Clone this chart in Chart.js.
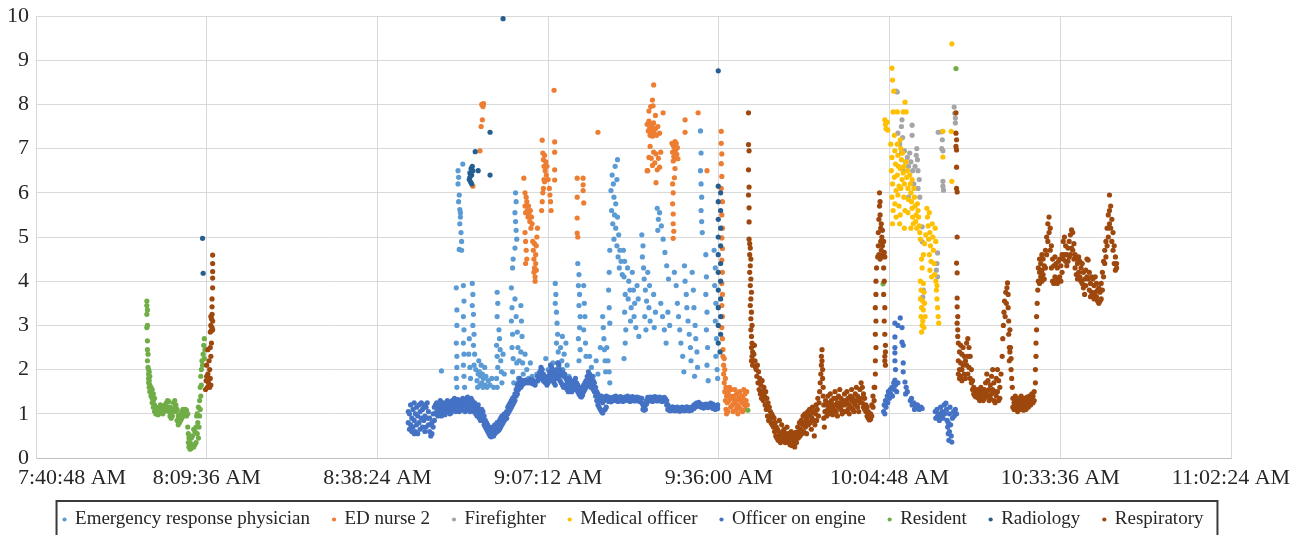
<!DOCTYPE html>
<html>
<head>
<meta charset="utf-8">
<script src="https://cdn.jsdelivr.net/npm/chart.js@4.4.1/dist/chart.umd.min.js"></script>
<style>
  html, body { margin: 0; padding: 0; background: #fff; }
</style>
</head>
<body>
<canvas id="chart" width="1305" height="535"></canvas>
<script>
'use strict';

// time axis: minutes after midnight
const xTicks = [460.8, 489.6, 518.4, 547.2, 576.0, 604.8, 633.6, 662.4];
const xTickLabels = ['7:40:48 AM', '8:09:36 AM', '8:38:24 AM', '9:07:12 AM', '9:36:00 AM', '10:04:48 AM', '10:33:36 AM', '11:02:24 AM'];

const seriesNames = ['Emergency response physician', 'ED nurse 2', 'Firefighter', 'Medical officer',
  'Officer on engine', 'Resident', 'Radiology', 'Respiratory'];
const seriesColors = ['#5B9BD5', '#ED7D31', '#A5A5A5', '#FFC000', '#4472C4', '#70AD47', '#255E91', '#9E480E'];

// [minute, value]
const emergencyPhysician = [
  [529.2,1.97],
  [532.8,6.65],[532.0,6.5],[532.1,6.35],[532.0,6.2],[532.2,5.95],[532.1,5.8],[532.3,5.62],[532.4,5.45],[532.3,5.3],[532.5,5.1],[532.6,4.9],[532.2,4.72],[532.6,4.7],[532.4,5.55],
  [531.7,3.85],[531.8,3.35],[531.8,3.0],[531.7,2.6],[531.8,2.3],[531.8,2.05],[531.7,1.8],[531.8,1.6],[532.9,3.9],[533.0,3.55],[532.9,3.2],[533.0,2.9],[532.9,2.6],[533.0,2.35],[532.9,2.1],[533.0,1.85],[533.1,1.6],
  [534.4,3.95],[534.5,3.7],[534.4,3.45],[534.6,3.25],[534.5,3.0],[534.7,2.8],[534.6,2.55],[534.8,2.35],[534.7,2.1],[533.9,2.7],[533.8,2.35],[534.0,2.05],[534.1,1.8],
  [535.0,2.0],[535.2,1.75],[535.3,1.6],[535.4,1.9],[535.5,2.2],[535.6,1.95],[535.7,1.65],[535.8,1.85],[535.9,2.1],[536.0,1.7],[536.1,1.9],[536.2,1.6],[536.3,1.8],[536.5,2.05],[536.6,1.65],[536.7,1.85],[536.9,1.6],[537.1,1.75],[537.4,1.65],[537.7,1.8],[538.0,1.6],
  [538.6,3.75],[538.7,3.5],[538.6,3.2],[538.5,2.55],[538.6,2.3],[538.7,2.05],[538.5,1.8],[538.6,1.6],[538.9,2.9],[539.0,2.7],[539.1,2.45],[539.2,2.2],[539.3,1.95],[539.4,1.7],[539.6,2.35],[539.8,1.9],
  [541.7,6.0],[541.8,5.8],[541.6,5.55],[541.7,5.35],[541.8,5.15],[541.9,4.95],[541.6,4.75],[541.3,4.5],[541.2,4.3],[541.0,3.85],[541.1,3.4],[541.0,3.1],[541.2,2.8],[541.1,2.5],[541.3,2.25],[541.2,1.95],[541.4,1.7],[541.6,3.6],[541.8,3.2],[542.0,2.85],[542.1,2.5],[541.9,2.15],[542.2,1.8],[542.3,2.2],[542.0,1.6],
  [542.6,3.45],[542.7,3.1],[542.8,2.75],[542.6,2.4],[542.9,2.15],[543.0,1.9],[543.3,2.35],[543.6,2.0],[543.9,1.8],[544.2,2.15],[544.5,1.85],
  [545.3,1.9],[545.5,1.75],[546.0,2.0],[546.5,1.8],[546.8,2.25],[547.2,2.0],[547.6,1.75],[548.0,2.15],[548.4,3.95],[548.5,3.7],[548.4,3.5],[548.6,3.3],[548.7,3.05],[548.8,2.8],[548.6,2.6],[548.9,2.4],[549.0,2.15],[549.2,1.9],[549.3,2.5],[549.5,2.2],[549.6,2.75],[549.7,2.0],[549.9,2.35],[550.2,2.6],[550.4,2.1],[550.7,1.85],
  [552.2,4.4],[552.4,4.15],[552.3,3.9],[552.5,3.7],[552.4,3.45],[552.6,3.2],[552.5,2.95],[552.3,2.7],[552.6,2.45],[552.4,2.2],[553.2,3.9],[553.3,3.5],[553.4,3.2],[553.2,2.9],[553.5,2.6],[553.6,2.3],
  [554.2,2.3],[554.5,2.05],[554.8,1.85],[555.3,2.2],[555.6,1.9],[556.0,2.5],[556.4,3.2],[556.5,2.95],[556.6,2.7],[556.7,2.45],[556.8,2.2],[556.9,1.95],[557.1,2.5],[557.3,2.2],[557.5,1.95],[557.6,1.7],
  [558.9,6.75],[558.5,6.6],[558.0,6.4],[558.2,6.2],[558.8,6.3],[557.8,6.05],[558.3,5.9],[558.6,5.75],[557.9,5.6],[558.4,5.5],[558.9,5.45],[558.1,5.3],[558.6,5.2],[559.1,5.05],[558.3,4.95],[558.8,4.8],[559.3,4.7],[559.0,4.55],[559.5,4.45],[559.2,4.3],[559.7,4.15],[557.6,4.7],[557.5,4.2],[557.4,3.8],[557.5,3.4],[557.6,3.05],
  [559.9,4.7],[560.1,4.45],[560.0,4.1],[560.2,3.7],[560.1,3.3],[560.3,2.9],[560.2,2.6],[560.0,2.25],[560.6,4.3],[560.8,4.0],[560.7,3.6],[561.0,3.8],[561.2,3.4],[561.1,3.1],[561.4,4.2],[561.6,3.8],[561.8,3.5],[561.7,3.2],[562.0,2.95],[562.2,3.9],[562.4,3.6],[562.5,2.75],
  [563.0,5.05],[563.2,4.8],[563.1,4.55],[563.3,4.3],[563.4,4.05],[563.6,3.8],[563.8,3.55],[563.5,3.2],[563.7,2.9],[564.0,4.2],[564.3,3.9],[564.2,3.4],[564.4,3.1],[565.6,5.65],[565.8,5.4],[565.7,5.15],[566.0,5.55],[566.3,5.25],[566.6,4.95],[566.9,4.65],[567.2,4.35],[567.5,4.05],[566.2,3.5],[566.5,3.2],[566.8,2.9],[567.1,2.6],[567.4,3.3],[567.7,3.0],[565.0,3.7],[565.3,3.3],[565.1,2.95],
  [568.5,4.2],[568.8,3.9],[569.0,3.5],[569.2,3.2],[569.4,2.9],[569.6,2.6],[569.9,2.3],[570.2,4.35],[570.3,4.0],[570.5,3.7],[570.6,3.4],[570.8,3.1],[571.0,2.8],[571.2,2.5],[571.3,2.2],[571.5,4.2],[571.7,3.8],[571.8,3.4],[572.0,3.0],[572.1,2.7],[572.3,2.4],[572.4,2.05],[570.1,1.95],[571.9,1.85],
  [572.9,7.4],[573.0,6.9],[572.9,6.5],[573.0,6.2],[573.1,5.9],[573.0,5.6],[573.1,5.35],[573.2,5.1],
  [573.8,4.6],[573.9,4.1],[573.8,3.7],[574.0,3.3],[573.9,2.9],[574.1,2.5],[574.0,2.1],[574.2,1.75],[575.2,4.7],[575.4,4.3],[575.3,3.9],[575.5,3.5],[575.4,3.1],[575.6,2.7],[575.5,2.3],[575.7,2.0],[575.8,1.8]
];

const edNurse2 = [
  [534.5,6.15],[535.7,6.95],[535.9,7.5],[536.1,7.65],[536.2,7.95],[536.3,8.02],[536.2,7.98],[536.0,8.0],
  [543.1,6.33],[543.3,6.0],[543.3,5.7],[543.4,5.55],[543.5,5.9],[543.6,5.8],[543.7,5.6],[543.8,5.45],[543.9,5.7],[544.0,5.5],[544.1,5.35],[544.2,5.6],[544.3,5.2],[544.4,5.45],[544.5,5.3],
  [543.3,5.1],[543.4,4.9],[543.5,4.7],[543.6,4.5],[543.4,4.4],[544.6,4.9],[544.7,4.7],[544.8,4.5],[544.9,4.3],[545.0,4.1],[545.0,4.0],[544.8,4.2],[545.1,4.4],[545.2,4.8],[545.3,5.0],[545.4,5.2],[545.1,4.6],[544.9,4.85],[545.2,4.25],
  [546.2,7.19],[546.3,6.9],[546.4,6.75],[546.5,6.6],[546.6,6.85],[546.7,6.5],[546.8,6.7],[546.9,6.4],[547.0,6.6],[546.5,6.3],[546.4,6.1],[546.6,6.25],[546.3,6.0],[546.2,5.8],[546.1,5.6],[547.2,6.3],[547.4,6.1],[547.5,5.95],[547.6,5.8],[547.7,5.6],
  [548.2,8.32],[548.3,7.15],[548.3,6.92],[548.3,6.52],[548.3,6.29],[555.6,7.37],
  [552.1,6.33],[552.1,5.9],[552.1,5.43],[552.1,5.09],[552.2,5.0],[553.1,6.33],[553.1,6.18],[553.2,5.77],[553.1,6.05],
  [565.0,8.44],[564.8,8.1],[564.9,7.97],[564.2,7.85],[564.5,7.95],[565.3,7.75],
  [563.9,7.55],[564.1,7.4],[564.2,7.62],[564.3,7.45],[564.4,7.3],[564.5,7.55],[564.6,7.35],[564.7,7.5],[564.8,7.28],[564.9,7.4],[565.0,7.58],[565.1,7.35],[565.3,7.45],[565.5,7.3],[565.7,7.5],[566.0,7.35],
  [564.0,6.5],[564.2,6.8],[564.4,7.05],[564.6,6.78],[564.8,6.62],[565.0,6.92],[565.2,6.68],[565.4,6.88],[565.6,6.52],[565.8,6.78],[566.0,6.58],[566.2,6.92],[563.9,6.5],[565.4,6.23],
  [566.6,7.81],[570.3,7.65],[570.3,7.37],[572.5,7.81],[574.0,6.5],
  [568.1,7.12],[568.2,6.92],[568.3,7.07],[568.4,6.82],[568.5,7.02],[568.6,6.77],[568.7,6.97],[568.8,7.12],[568.9,6.87],[569.0,7.02],[569.1,6.77],[568.3,6.72],[568.6,7.16],
  [568.5,6.34],[568.3,6.0],[568.2,5.75],[568.3,5.52],[568.3,5.3],[568.4,5.13],[568.3,4.97],[568.6,6.55],[568.2,6.2],
  [576.4,7.39],[576.4,7.12],[576.5,6.88],[576.4,6.66],[576.5,6.37],[576.4,6.1],[576.6,5.8],[576.5,5.5],[576.6,5.2],[576.5,4.98],[576.6,4.74],[576.5,4.48],[576.6,4.2],[576.5,3.95],[576.6,3.7],[576.5,3.45],[576.6,3.2],[576.5,2.95],[576.6,2.7],[576.7,2.45],
  [576.7,2.3],[576.8,2.1],[576.9,2.25],[576.8,1.9],[576.9,1.7],[577.0,2.0],[577.0,1.5],[577.1,1.8],[577.1,1.3],[577.2,1.6],[577.2,1.1],[577.3,1.4],[577.3,1.0],[577.4,1.25],[577.5,1.05],[577.6,1.5],[577.7,1.3],[577.8,1.6],[577.9,1.4],[578.0,1.15],
  [578.1,1.55],[578.2,1.35],[578.3,1.2],[578.4,1.05],[578.5,1.4],[578.6,1.25],[578.7,1.55],[578.8,1.3],[578.9,1.1],[579.0,1.45],[579.1,1.2],[579.2,1.0],[579.3,1.35],[579.4,1.15],[579.5,1.5],[579.6,1.3],[579.7,1.1],[579.8,1.4],[579.9,1.25],[580.0,1.05],
  [580.1,1.35],[580.2,1.55],[580.3,1.2],[580.4,1.45],[580.5,1.1],[580.6,1.3],[580.7,1.5],[580.8,1.2]
];

const firefighter = [
  [605.9,8.3],[606.1,8.28],[606.9,7.65],[606.8,7.5],[608.6,7.53],[608.6,7.3],
  [606.2,7.35],[606.5,7.1],[606.8,6.9],[607.0,7.25],[607.3,6.95],[607.5,6.7],[607.1,6.5],[607.8,6.8],[608.0,6.6],[608.2,6.9],[608.4,6.7],[608.7,6.5],[608.9,6.2],[609.1,6.6],[609.3,6.85],[609.4,7.0],[609.5,6.75],[609.6,6.5],[609.8,6.3],[609.6,6.1],[609.9,5.9],[608.0,5.9],
  [610.3,5.23],[610.3,4.89],[610.4,3.64],[610.5,3.8],
  [612.9,4.64],[612.8,4.4],[612.9,4.1],[612.7,4.25],
  [613.0,7.37],[613.6,7.38],[613.7,7.2],[613.6,7.0],[613.8,6.95],[613.8,6.26],[613.8,6.15],[613.9,6.06],
  [615.7,7.94],[615.8,7.8],[615.9,7.69],[615.9,7.58]
];

const medicalOfficer = [
  [604.0,7.65],[604.1,7.55],[604.2,7.45],[604.4,7.6],[604.5,7.42],
  [605.2,8.82],[605.3,8.55],[605.5,8.3],
  [605.4,7.83],[606.1,7.83],[607.1,7.83],[607.6,7.83],[607.4,8.05],
  [605.0,7.1],[605.2,6.8],[605.1,6.5],[605.3,6.2],[605.2,5.9],[605.4,5.6],[605.3,5.3],
  [605.6,7.3],[605.7,6.95],[605.8,6.65],[605.6,6.35],[605.9,6.05],[605.7,5.75],[605.9,5.45],
  [606.1,7.1],[606.2,6.85],[606.3,6.6],[606.1,6.4],[606.4,6.15],[606.2,5.95],[606.4,5.7],
  [606.6,7.2],[606.7,7.0],[606.8,6.75],[606.6,6.55],[606.9,6.3],[606.7,6.1],[606.5,5.3],[606.6,5.5],
  [607.0,6.9],[607.2,6.6],[607.1,6.45],[607.3,6.2],[607.2,5.9],[607.4,5.6],[607.3,5.2],
  [607.6,6.7],[607.8,6.5],[607.7,6.35],[607.9,6.1],[608.0,5.85],[607.9,5.55],
  [608.2,6.4],[608.3,6.2],[608.4,6.0],[608.5,5.8],[608.6,5.65],[608.7,5.45],[608.8,5.3],[608.4,5.2],
  [608.6,6.3],[608.9,6.1],[609.0,5.9],[609.1,5.7],[609.3,5.5],[609.2,5.35],[609.4,5.2],
  [609.5,5.75],[609.6,5.6],[609.7,5.45],[609.8,5.25],[609.9,5.1],[610.0,4.95],
  [610.0,4.0],[610.1,3.8],[610.0,3.6],[610.2,3.4],[610.1,3.2],[610.3,3.0],[610.2,2.85],[610.4,3.1],[610.5,3.35],[610.4,3.55],[610.6,3.75],[610.5,3.95],[610.7,3.5],[610.8,3.2],[610.6,2.95],
  [610.3,4.3],[610.5,4.6],[610.7,4.85],[610.9,5.05],[610.2,4.5],
  [611.1,5.65],[611.2,5.45],[611.3,5.25],[611.5,5.55],[611.6,5.1],[611.4,4.95],[611.7,4.8],[611.5,4.6],[611.8,4.45],[611.6,4.25],[611.9,4.1],[612.0,5.3],[612.1,5.0],[612.2,4.7],[612.3,4.4],[612.4,4.15],[612.5,5.2],[612.6,4.9],
  [612.6,4.0],[612.7,3.8],[612.8,3.6],[612.9,3.4],[613.0,3.2],[613.1,3.05],[612.8,3.9],
  [613.8,7.39],[613.8,6.81],[615.2,7.39],[615.3,9.37],[615.3,6.26]
];

const officerOnEngine = [
  [523.6,1.05],[523.6,0.8],[523.8,1.0],[523.8,0.65],[524.0,1.2],[524.0,0.75],[524.2,0.9],[524.2,0.6],[524.4,1.1],[524.4,0.7],[524.6,1.25],[524.6,0.85],[524.6,0.55],[524.8,1.0],[524.8,0.6],
  [525.0,1.15],[525.0,0.75],[525.2,0.95],[525.2,0.55],[525.4,1.2],[525.4,0.8],[525.6,1.05],[525.6,0.65],[525.8,1.25],[525.8,0.9],[526.0,1.1],[526.0,0.7],[526.2,1.2],[526.2,0.85],[526.4,0.95],[526.4,0.6],
  [526.6,1.15],[526.6,0.7],[526.8,1.25],[526.8,0.9],[527.0,1.05],[527.0,0.75],[527.2,0.9],[527.2,0.6],[527.4,0.75],[527.4,0.5],[527.6,0.8],[527.6,0.55],[527.8,1.0],[527.8,0.7],[528.0,1.15],[528.0,0.85],
  [528.2,1.2],[528.2,1.0],[528.4,1.25],[528.4,1.05],[528.6,1.15],[528.6,0.95],[528.8,1.2],[528.8,1.0],[529.0,1.3],[529.0,1.1],[529.2,1.1],[529.2,0.95],[529.4,1.2],[529.4,1.0],[529.6,1.25],[529.6,1.05],
  [529.8,1.15],[529.8,0.98],[530.0,1.2],[530.0,1.05],[530.2,1.3],[530.2,1.1],[530.4,1.25],[530.4,1.05],[530.6,1.15],[530.6,1.0],[530.8,1.2],[530.8,1.02],[531.0,1.3],[531.0,1.1],[531.2,1.25],[531.2,1.08],
  [531.4,1.35],[531.4,1.15],[531.6,1.2],[531.6,1.05],[531.8,1.28],[531.8,1.1],[532.0,1.32],[532.0,1.12],[532.2,1.2],[532.2,1.05],[532.4,1.3],[532.4,1.1],[532.6,1.25],[532.6,1.08],[532.8,1.35],[532.8,1.15],
  [533.0,1.3],[533.0,1.1],[533.2,1.22],[533.2,1.05],[533.4,1.3],[533.4,1.1],[533.6,1.38],[533.6,1.18],[533.8,1.3],[533.8,1.12],[534.0,1.25],[534.0,1.05],[534.2,1.35],[534.2,1.15],[534.4,1.3],[534.4,1.1],
  [534.6,1.2],[534.6,1.05],[534.8,1.25],[534.8,1.08],[535.0,1.15],[535.0,1.0],[535.2,1.1],[535.2,0.95],[535.4,1.2],[535.4,1.0],[535.6,1.1],[535.6,0.9],[535.8,1.0],[535.8,0.85],[536.0,1.1],[536.0,0.9],
  [536.2,1.05],[536.2,0.85],[536.4,0.95],[536.4,0.75],[536.6,0.85],[536.6,0.7],[536.8,0.8],[536.8,0.65],[537.0,0.75],[537.0,0.6],[537.2,0.7],[537.2,0.55],[537.4,0.65],[537.4,0.5],[537.6,0.6],[537.6,0.48],
  [537.8,0.7],[537.8,0.52],[538.0,0.65],[538.0,0.5],[538.2,0.75],[538.2,0.55],[538.4,0.7],[538.4,0.58],[538.6,0.8],[538.6,0.6],[538.8,0.75],[538.8,0.62],[539.0,0.85],[539.0,0.65],[539.2,0.9],[539.2,0.7],
  [539.4,0.95],[539.4,0.75],[539.6,0.9],[539.6,0.8],[539.8,1.0],[539.8,0.85],[540.0,0.95],[540.0,0.88],[540.2,1.05],[540.2,0.9],[540.4,1.15],[540.4,1.0],[540.6,1.2],[540.6,1.05],[540.8,1.25],[540.8,1.1],
  [541.0,1.3],[541.0,1.15],[541.2,1.35],[541.2,1.2],[541.4,1.38],[541.4,1.25],[541.6,1.45],[541.6,1.3],[541.8,1.55],[541.8,1.4],[542.0,1.65],[542.0,1.45],[542.2,1.7],[542.2,1.55],[542.4,1.8],[542.4,1.6],
  [542.6,1.75],[542.6,1.6],[542.8,1.72],[542.8,1.65],[543.0,1.75],[543.0,1.68],[543.2,1.74],[543.4,1.76],[543.4,1.7],[543.6,1.73],[543.8,1.74],[543.8,1.7],[544.0,1.76],[544.2,1.78],[544.2,1.7],[544.4,1.74],[544.6,1.76],[544.6,1.68],[544.8,1.72],[545.0,1.7],[545.0,1.65],
  [545.4,1.85],[545.4,1.75],[545.8,1.95],[545.8,1.8],[546.0,2.05],[546.0,1.85],[546.2,2.0],[546.2,1.8],[546.4,1.9],[546.4,1.75],[546.6,1.85],[546.6,1.72],[546.8,1.8],[546.8,1.7],[547.0,1.75],[547.0,1.65],
  [547.2,1.85],[547.2,1.7],[547.4,1.95],[547.4,1.8],[547.6,2.1],[547.6,1.9],[547.8,2.05],[547.8,1.85],[548.0,1.95],[548.0,1.75],[548.2,1.9],[548.2,1.7],[548.4,1.85],[548.4,1.65],[548.6,2.0],[548.6,1.8],
  [548.8,2.15],[548.8,1.9],[549.0,2.1],[549.0,1.85],[549.2,2.0],[549.2,1.75],[549.4,1.9],[549.4,1.7],[549.6,1.95],[549.6,1.65],[549.8,1.85],[549.8,1.6],[550.0,1.9],[550.0,1.65],[550.2,1.8],[550.2,1.6],
  [550.4,1.75],[550.4,1.55],[550.6,1.7],[550.6,1.5],[550.8,1.8],[550.8,1.6],[551.0,1.75],[551.0,1.55],[551.2,1.65],[551.2,1.5],[551.4,1.7],[551.4,1.55],[551.6,1.75],[551.6,1.6],[551.8,1.8],[551.8,1.62],
  [552.0,1.7],[552.0,1.55],[552.2,1.65],[552.2,1.5],[552.4,1.6],[552.4,1.45],[552.6,1.55],[552.6,1.4],[552.8,1.5],[552.8,1.38],[553.0,1.6],[553.0,1.42],[553.2,1.65],[553.2,1.5],[553.4,1.7],[553.4,1.55],
  [553.6,1.75],[553.6,1.6],[553.8,1.85],[553.8,1.65],[554.0,1.95],[554.0,1.75],[554.2,1.9],[554.2,1.7],[554.4,1.8],[554.4,1.6],[554.6,1.85],[554.6,1.65],[554.8,1.75],[554.8,1.55],[555.0,1.7],[555.0,1.5],
  [555.2,1.6],[555.2,1.4],[555.4,1.5],[555.4,1.3],[555.6,1.45],[555.6,1.2],[555.8,1.35],[555.8,1.15],[556.0,1.3],[556.0,1.1],[556.2,1.4],[556.2,1.05],[556.4,1.25],[556.4,1.02],[556.6,1.3],[556.6,1.08],
  [556.8,1.35],[556.8,1.1],[557.0,1.4],[557.0,1.15],[557.2,1.33],[557.4,1.38],[557.4,1.28],[557.6,1.33],[557.8,1.36],[557.8,1.27],[558.0,1.34],[558.2,1.38],[558.2,1.3],[558.4,1.33],[558.6,1.4],[558.6,1.3],[558.8,1.34],[559.0,1.37],[559.0,1.28],[559.2,1.33],[559.4,1.39],[559.4,1.3],
  [559.6,1.33],[559.8,1.36],[559.8,1.28],[560.0,1.33],[560.2,1.38],[560.2,1.3],[560.4,1.34],[560.6,1.4],[560.6,1.31],[560.8,1.33],[561.0,1.37],[561.0,1.28],[561.2,1.33],[561.4,1.39],[561.4,1.3],[561.6,1.33],[561.8,1.37],[561.8,1.29],[562.0,1.34],[562.2,1.38],[562.2,1.3],[562.4,1.33],[562.6,1.36],[562.6,1.28],[562.8,1.32],
  [563.0,1.35],[563.0,1.25],[563.2,1.2],[563.2,1.1],[563.4,1.15],[563.4,1.08],[563.6,1.2],[563.6,1.1],[563.8,1.3],[563.8,1.22],[564.0,1.37],[564.0,1.28],[564.2,1.33],[564.4,1.38],[564.4,1.3],[564.6,1.33],[564.8,1.37],[564.8,1.28],[565.0,1.34],
  [565.2,1.39],[565.2,1.3],[565.4,1.33],[565.6,1.37],[565.6,1.29],[565.8,1.34],[566.0,1.38],[566.0,1.3],[566.2,1.33],[566.4,1.36],[566.4,1.28],[566.6,1.33],[566.8,1.37],[566.8,1.29],[567.0,1.34],[567.2,1.3],[567.2,1.2],[567.4,1.2],[567.4,1.1],[567.6,1.15],[567.6,1.08],
  [567.8,1.14],[567.8,1.07],[568.0,1.11],[568.2,1.16],[568.2,1.08],[568.4,1.11],[568.6,1.14],[568.6,1.07],[568.8,1.1],[569.0,1.15],[569.0,1.08],[569.2,1.11],[569.4,1.13],[569.4,1.06],[569.6,1.1],[569.8,1.15],[569.8,1.08],[570.0,1.11],[570.2,1.14],[570.2,1.07],[570.4,1.11],[570.6,1.16],[570.6,1.08],
  [570.8,1.11],[571.0,1.14],[571.0,1.07],[571.2,1.11],[571.4,1.15],[571.4,1.08],[571.6,1.14],[571.8,1.2],[571.8,1.12],[572.0,1.18],[572.2,1.24],[572.2,1.16],[572.4,1.2],[572.6,1.26],[572.6,1.18],[572.8,1.2],[573.0,1.22],[573.0,1.15],[573.2,1.18],[573.4,1.2],[573.4,1.13],[573.6,1.17],[573.8,1.22],[573.8,1.15],
  [574.0,1.18],[574.2,1.21],[574.2,1.14],[574.4,1.19],[574.6,1.24],[574.6,1.16],[574.8,1.2],[575.0,1.22],[575.0,1.12],[575.2,1.16],[575.4,1.18],[575.4,1.1],[575.6,1.15],[575.8,1.2],[575.8,1.12],
  [603.8,1.05],[603.9,1.2],[604.0,1.0],[604.1,1.3],[604.2,1.15],[604.4,1.4],[604.5,1.25],[604.6,1.5],[604.8,1.35],[604.9,1.55],[605.0,1.45],[605.2,1.6],[605.3,1.4],[605.5,1.7],[605.6,1.55],[605.8,1.65],[606.0,1.5],[606.2,1.7],
  [606.6,3.17],[605.7,3.05],[606.2,3.0],[606.9,2.95],[605.7,2.74],[606.9,2.62],[607.1,2.55],[605.7,2.5],[605.7,2.38],[607.1,2.15],[607.1,1.95],[605.7,2.2],[605.8,2.0],[605.7,1.76],[607.4,1.72],[607.6,1.6],[607.8,1.5],[607.5,1.45],
  [608.3,1.3],[608.6,1.2],[608.9,1.25],[609.2,1.15],[609.5,1.2],[609.8,1.1],[610.1,1.15],[610.3,1.12],[608.5,1.35],[609.0,1.1],
  [612.5,1.05],[612.6,0.9],[612.8,1.1],[612.9,0.95],[613.1,1.0],[613.2,0.85],[613.4,1.15],[613.5,0.95],[613.7,1.05],[613.8,0.9],[614.0,1.2],[614.1,1.0],[614.3,1.24],[614.4,1.1],[614.5,0.85],
  [614.6,0.7],[614.7,0.55],[614.8,0.4],[614.9,0.6],[614.7,0.8],[614.9,1.0],[615.0,1.15],[615.1,0.75],[615.2,0.5],[615.3,0.36],[615.4,0.9],[615.6,1.05],[615.7,0.95],[615.9,1.1],[616.1,1.0]
];

const resident = [
  [479.5,3.55],[479.5,3.45],[479.6,3.35],[479.5,3.25],[479.6,3.0],[479.5,2.95],[479.6,2.65],[479.6,2.45],[479.7,2.35],[479.6,2.2],[479.7,2.05],
  [479.8,2.0],[479.8,1.9],[479.8,1.8],[479.8,1.7],[479.9,1.95],[479.9,1.75],[479.9,1.6],[480.0,1.85],[480.0,1.65],[480.0,1.5],
  [480.2,1.6],[480.2,1.5],[480.2,1.4],[480.4,1.55],[480.4,1.35],[480.4,1.25],[480.6,1.45],[480.6,1.3],[480.6,1.15],[480.8,1.35],[480.8,1.2],[480.8,1.05],
  [481.0,1.15],[481.0,1.0],[481.2,1.1],[481.2,1.0],[481.4,1.05],[481.4,0.98],[481.6,1.15],[481.6,1.02],[481.8,1.2],[481.8,1.08],[482.0,1.15],[482.0,1.05],[482.2,1.1],[482.2,1.0],
  [482.4,1.05],[482.4,1.15],[482.6,1.2],[482.6,1.08],[482.8,1.25],[482.8,1.12],[483.0,1.3],[483.0,1.15],[483.2,1.28],[483.2,1.05],[483.4,1.15],[483.4,0.95],[483.6,1.0],[483.6,0.9],
  [483.8,1.05],[483.8,0.95],[484.0,1.25],[484.0,1.1],[484.2,1.3],[484.2,1.15],[484.4,1.2],[484.4,1.05],[484.6,1.1],[484.6,0.85],[484.8,0.95],[484.8,0.75],[485.0,0.9],[485.0,0.8],
  [485.2,1.0],[485.2,0.85],[485.4,1.05],[485.4,0.9],[485.6,1.1],[485.6,0.95],[485.8,1.05],[485.8,0.98],[486.0,1.1],[486.0,1.0],[486.2,1.08],[486.2,0.95],
  [486.4,1.0],[486.4,0.7],[486.5,0.55],[486.5,0.35],[486.6,0.45],[486.6,0.25],[486.8,0.35],[486.8,0.2],[487.0,0.45],[487.0,0.22],[487.2,0.5],[487.2,0.3],[487.4,0.65],[487.4,0.25],
  [487.6,0.6],[487.6,0.3],[487.8,0.7],[487.8,0.35],[487.9,0.95],[488.0,1.0],[488.0,0.55],[488.1,0.8],[488.2,1.15],[488.2,0.45],[488.3,0.7],[488.4,1.3],[488.4,0.95],
  [488.5,1.6],[488.5,1.1],[488.6,1.85],[488.6,1.4],[488.7,2.0],[488.7,1.65],[488.8,2.2],[488.9,2.1],[489.0,2.35],[489.1,2.55],[489.2,2.7],[489.2,2.25],[489.3,2.45],
  [580.9,1.08],[603.7,3.94],[616.0,8.81]
];

const radiology = [
  [488.9,4.97],[489.0,4.18],
  [533.9,6.3],[534.0,6.45],[534.1,6.25],[534.2,6.55],[534.3,6.4],[534.4,6.6],[534.5,6.5],[534.3,6.2],[534.0,6.35],[534.9,6.93],[535.4,6.5],[537.4,7.37],[537.4,6.4],[539.6,9.94],
  [575.9,8.76],[575.9,6.15],[576.3,6.0],[575.9,5.8],[576.3,5.6],[575.9,5.4],[576.3,5.2],[575.9,5.0],[576.3,4.8],[575.9,4.6],[576.3,4.4],[575.9,4.2],[576.3,4.0],[575.9,3.8],[576.3,3.6],
  [575.9,3.4],[576.3,3.2],[575.9,3.0],[576.3,2.8],[575.9,2.6],[576.2,2.4]
];

const respiratory = [
  [490.6,4.59],[490.6,4.4],[490.6,4.22],[490.6,4.07],[490.6,3.85],[490.5,3.6],[490.5,3.42],[490.5,3.25],[490.4,3.15],[490.6,3.1],[490.3,3.0],[490.5,2.95],[490.4,2.88],[490.2,2.85],[490.6,2.9],[490.3,3.2],
  [490.4,2.6],[490.2,2.5],[489.8,2.45],[490.3,2.3],[490.0,2.2],[489.6,2.1],[490.1,2.0],[489.8,1.9],[490.2,1.8],[489.5,1.75],[489.9,1.7],[490.1,1.6],[489.7,1.6],[489.4,1.55],[489.6,1.85],[490.3,1.65],
  [581.0,7.81],[581.0,7.09],[581.1,6.95],[581.0,6.52],[581.1,6.13],[581.0,5.95],[581.1,5.66],[581.1,5.34],
  [581.1,4.95],[581.2,4.85],[581.3,4.75],[581.2,4.6],[581.4,4.5],[581.3,4.35],[581.2,4.2],[581.4,4.05],[581.3,3.9],[581.5,3.75],[581.4,3.6],[581.3,3.45],[581.5,3.3],[581.4,3.15],[581.6,3.0],
  [581.4,2.9],[581.5,2.75],[581.6,2.6],[581.5,2.5],[581.7,2.4],[581.6,2.3],[581.8,2.2],[581.7,2.1],[581.9,2.35],[582.0,2.55],[582.1,2.2],[582.2,2.05],[581.5,2.2],
  [582.3,2.0],[582.4,1.85],[582.5,2.1],[582.6,1.7],[582.7,1.95],[582.8,1.55],[582.9,1.8],[583.0,1.45],[583.1,1.65],[583.2,1.35],[583.3,1.75],[583.4,1.5],[583.5,1.3],[583.6,1.6],[583.7,1.4],[583.8,1.2],
  [583.9,1.5],[584.0,1.1],[584.1,1.35],[584.2,0.95],[584.3,1.25],[584.4,0.85],[584.5,1.15],[584.6,0.9],[584.7,1.05],[584.8,0.8],[584.9,1.0],[585.0,0.75],[585.1,0.95],[585.2,0.7],[585.3,0.9],[585.4,0.6],[585.5,0.8],
  [585.6,0.5],[585.7,0.7],[585.8,0.45],[585.9,0.65],[586.0,0.4],[586.1,0.6],[586.2,0.85],[586.3,0.5],[586.4,0.35],[586.5,0.55],[586.6,0.75],[586.7,0.45],[586.8,0.6],[586.9,0.4],[587.0,0.65],[587.1,0.5],
  [587.2,0.35],[587.3,0.55],[587.4,0.45],[587.5,0.7],[587.6,0.4],[587.7,0.55],[587.8,0.35],[587.9,0.5],[588.0,0.3],[588.1,0.45],[588.2,0.6],[588.3,0.28],[588.4,0.42],[588.5,0.55],[588.6,0.32],[588.7,0.48],
  [588.8,0.25],[588.9,0.4],[589.0,0.58],[589.1,0.35],[589.2,0.5],[589.3,0.7],[589.4,0.45],[589.5,0.6],[589.6,0.8],[589.7,0.5],[589.8,0.65],[589.9,0.85],[590.0,0.55],
  [590.1,0.75],[590.2,0.95],[590.3,0.6],[590.4,0.8],[590.5,1.0],[590.6,0.7],[590.7,0.9],[590.8,0.55],[590.9,0.85],[591.0,1.05],[591.1,0.75],[591.2,0.95],[591.3,1.1],[591.4,0.8],[591.5,1.0],[591.6,0.65],
  [591.7,0.9],[591.8,1.15],[591.9,0.85],[592.0,1.05],[592.1,0.5],[592.2,0.75],
  [592.3,1.0],[592.4,1.2],[592.5,0.85],[592.6,1.1],[592.7,1.35],[592.8,0.95],[592.9,1.25],[593.0,1.5],[593.1,1.7],[593.2,1.9],[593.3,2.1],[593.3,2.3],[593.4,2.45],[593.4,2.2],[593.5,2.0],[593.5,1.8],
  [593.6,1.6],[593.6,1.4],[593.7,1.2],[593.7,0.9],[593.8,0.7],[593.9,1.05],
  [594.0,1.3],[594.0,1.05],[594.2,1.2],[594.2,0.95],[594.4,1.4],[594.4,1.1],[594.6,1.25],[594.6,1.0],[594.8,1.45],[594.8,1.15],[595.0,1.3],[595.0,1.05],[595.2,1.2],[595.2,0.98],[595.4,1.35],[595.4,1.1],
  [595.6,1.5],[595.6,1.2],[595.8,1.35],[595.8,1.05],[596.0,1.25],[596.0,0.95],[596.2,1.4],[596.2,1.15],[596.4,1.55],[596.4,1.25],[596.6,1.35],[596.6,1.1],[596.8,1.2],[596.8,1.0],[597.0,1.3],[597.0,1.05],
  [597.2,1.45],[597.2,1.2],[597.4,1.3],[597.4,1.05],[597.6,1.5],[597.6,1.25],[597.8,1.35],[597.8,1.1],[598.0,1.2],[598.0,1.0],[598.2,1.4],[598.2,1.15],[598.4,1.55],[598.4,1.3],[598.6,1.35],[598.6,1.1],
  [598.8,1.25],[598.8,1.05],[599.0,1.45],[599.0,1.2],[599.2,1.6],[599.2,1.3],[599.4,1.4],[599.4,1.15],[599.6,1.3],[599.6,1.05],[599.8,1.55],[599.8,1.25],[600.0,1.7],[600.0,1.35],[600.2,1.6],[600.2,1.25],
  [600.4,1.45],[600.4,1.15],[600.6,1.35],[600.6,1.1],[600.8,1.2],[600.8,1.05],[601.0,1.15],[601.0,0.95],[601.2,1.05],[601.2,0.9],[601.4,0.95],[601.4,0.86],[601.6,1.0],[601.6,0.88],[601.8,1.2],[601.8,0.95],
  [602.0,1.4],[602.0,1.15],[602.2,1.6],[602.2,1.3],
  [602.3,1.6],[602.4,1.9],[602.4,2.2],[602.5,2.5],[602.4,2.8],[602.5,3.1],[602.4,3.4],[602.5,3.7],[602.5,4.0],[602.6,4.3],
  [602.8,4.55],[602.9,4.8],[602.9,5.1],[603.0,4.6],[603.0,5.4],[603.1,5.7],[603.1,6.0],[603.2,5.8],[603.2,5.5],[603.3,5.2],[603.3,4.9],[603.4,4.7],[603.4,5.3],[603.5,5.0],[603.5,4.55],[603.6,4.8],
  [603.7,4.6],[603.2,4.5],[603.6,5.15],[603.8,4.9],[603.9,4.65],[604.0,4.55],
  [603.8,4.3],[603.9,4.0],[603.8,3.7],[604.0,3.4],[603.9,3.1],[604.0,2.8],[604.1,2.55],[604.0,2.3],[604.1,2.1],[604.0,2.2],[604.1,2.4],
  [616.0,7.81],[616.0,7.35],[616.1,7.2],[616.0,7.05],[616.1,6.97],[616.1,6.58],[616.1,6.1],[616.2,6.02],[616.2,5.0],[616.1,4.41],[616.2,4.19],[616.2,3.62],[616.2,3.42],[616.3,3.2],[616.2,3.05],[616.3,2.9],[616.3,2.75],
  [616.4,2.6],[616.4,2.2],[616.4,1.9],[616.6,2.4],[616.6,2.0],[616.6,1.8],[616.8,2.55],[616.8,2.15],[616.8,1.85],[617.0,2.35],[617.0,2.0],[617.0,1.75],[617.2,2.5],[617.2,2.1],[617.4,2.3],[617.4,1.9],
  [617.6,2.2],[617.6,1.8],[617.8,2.6],[617.8,2.1],[618.0,2.7],[618.0,2.3],[618.0,1.9],[618.2,2.5],[618.2,2.05],[618.4,2.3],[618.4,1.8],[618.6,2.0],[618.6,1.7],[618.8,1.75],[618.8,1.55],
  [619.0,1.6],[619.0,1.45],[619.2,1.55],[619.2,1.4],[619.4,1.5],[619.4,1.38],[619.6,1.55],[619.6,1.4],[619.8,1.45],[619.8,1.35],[620.0,1.5],[620.0,1.3],[620.2,1.6],[620.2,1.4],[620.4,1.5],[620.4,1.35],
  [620.6,1.45],[620.6,1.3],[620.8,1.55],[620.8,1.35],[621.0,1.7],[621.0,1.45],[621.2,1.9],[621.2,1.5],[621.4,1.75],[621.4,1.4],[621.6,1.55],[621.6,1.3],[621.8,1.65],[621.8,1.35],[622.0,1.85],[622.0,1.45],
  [622.2,2.0],[622.2,1.55],[622.4,1.7],[622.4,1.3],[622.6,1.5],[622.6,1.25],[622.8,1.8],[622.8,1.4],[623.0,2.0],[623.0,1.5],[623.2,1.75],[623.2,1.3],[623.4,1.6],[623.4,1.35],
  [623.6,1.9],[623.8,2.3],[623.9,2.7],[624.0,3.0],[624.1,3.3],[624.2,3.55],[624.3,3.2],[624.4,3.75],[624.5,3.5],[624.6,3.85],[624.7,3.96],[624.8,3.7],[624.8,3.4],[624.9,3.1],[624.9,2.8],[625.0,2.5],
  [625.0,2.2],[625.1,2.9],[625.1,2.4],[625.2,2.5],[625.3,2.25],[625.3,2.0],[625.4,1.8],[625.5,1.6],
  [625.6,1.35],[625.6,1.15],[625.8,1.25],[625.8,1.1],[626.0,1.4],[626.0,1.2],[626.2,1.3],[626.2,1.12],[626.4,1.2],[626.4,1.05],[626.6,1.35],[626.6,1.15],[626.8,1.28],[626.8,1.1],[627.0,1.4],[627.0,1.2],
  [627.2,1.3],[627.2,1.12],[627.4,1.22],[627.4,1.08],[627.6,1.35],[627.6,1.15],[627.8,1.3],[627.8,1.1],[628.0,1.38],[628.0,1.2],[628.2,1.3],[628.2,1.15],[628.4,1.4],[628.4,1.25],[628.6,1.35],[628.6,1.2],
  [628.8,1.45],[628.8,1.28],[629.0,1.4],[629.0,1.25],[629.2,1.5],[629.2,1.3],
  [629.4,1.7],[629.4,2.0],[629.5,2.3],[629.5,2.6],[629.6,2.9],[629.6,3.2],[629.7,3.5],[629.8,3.8],
  [629.9,4.0],[629.9,4.3],[630.1,4.2],[630.1,4.5],[630.1,3.95],[630.3,4.4],[630.3,4.1],[630.5,4.6],[630.5,4.25],[630.5,4.0],[630.7,4.5],[630.7,4.15],[630.9,4.35],[630.9,4.05],[631.1,4.7],[631.1,4.3],
  [631.3,5.0],[631.3,4.6],[631.5,5.3],[631.5,4.9],[631.7,5.45],[631.7,5.1],[631.9,5.2],[631.9,4.7],[632.1,4.8],[632.1,4.3],[632.3,4.5],[632.3,4.0],[632.5,4.35],[632.5,3.95],[632.7,4.55],[632.7,4.1],
  [632.9,4.4],[632.9,4.0],[633.1,4.3],[633.1,3.95],[633.3,4.45],[633.3,4.05],[633.5,4.5],[633.5,4.1],[633.7,4.35],[633.7,4.0],[633.9,4.6],[633.9,4.2],[634.1,4.9],[634.1,4.5],[634.3,5.0],[634.3,4.6],
  [634.5,4.8],[634.5,4.45],[634.7,4.6],[634.7,4.35],[634.9,4.75],[634.9,4.45],[635.1,4.9],[635.1,4.55],[635.3,5.05],[635.3,4.6],[635.5,5.16],[635.5,4.75],[635.7,5.1],[635.7,4.7],[635.9,4.85],[635.9,4.5],
  [636.1,4.6],[636.1,4.3],[636.3,4.5],[636.3,4.15],[636.5,4.4],[636.5,4.05],[636.7,4.55],[636.7,4.2],[636.9,4.45],[636.9,4.1],[637.1,4.3],[637.1,4.0],[637.3,4.4],[637.3,3.95],[637.5,4.2],[637.5,3.85],
  [637.7,4.05],[637.7,3.7],[637.9,4.25],[637.9,3.9],[638.1,4.5],[638.1,4.1],[638.3,4.48],[638.3,4.05],[638.5,4.2],[638.5,3.8],[638.7,3.95],[638.7,3.65],[638.9,4.1],[638.9,3.75],
  [639.1,4.05],[639.1,3.7],[639.3,3.9],[639.3,3.6],[639.5,4.1],[639.5,3.75],[639.7,3.95],[639.7,3.65],[639.9,3.8],[639.9,3.55],[640.1,3.85],[640.1,3.5],[640.3,3.75],[640.3,3.55],[640.5,3.95],[640.5,3.6],
  [640.7,4.2],[640.7,3.8],[640.9,4.45],[640.9,4.1],[641.1,4.7],[641.1,4.4],[641.3,4.9],[641.3,4.55],[641.5,5.2],[641.5,4.8],[641.7,5.5],[641.7,5.0],[641.9,5.95],[641.9,5.6],[641.9,5.3],[642.1,5.7],
  [642.1,5.2],[642.3,5.4],[642.3,4.9],[642.5,5.1],[642.5,4.7],[642.7,4.8],[642.7,4.4],[642.9,4.55],[642.9,4.25],[643.1,4.4],[643.1,4.3]
];

const seriesData = [emergencyPhysician, edNurse2, firefighter, medicalOfficer, officerOnEngine, resident, radiology, respiratory];

const SERIF = '"Liberation Serif", "Times New Roman", serif';
const TEXT = '#262626';

function clockLabelsPlugin () {
    return {
        id: 'clockLabels',
        afterDraw: function (chart) {
            const scale = chart.scales.x;
            const ctx = chart.ctx;
            ctx.save();
            ctx.font = '22px ' + SERIF;
            ctx.fillStyle = TEXT;
            ctx.textAlign = 'center';
            ctx.textBaseline = 'middle';
            xTicks.forEach((v, i) => {
                const label = xTickLabels[i];
                const w = ctx.measureText(label).width;
                let x = scale.getPixelForValue(v);
                // the first label is pushed right, like the original
                x = Math.max(x, 18 + w / 2);
                x = Math.min(x, chart.width - 2 - w / 2);
                ctx.fillText(label, x, scale.top + 20);
            });
            ctx.restore();
        }
    };
}

function legendFramePlugin () {
    return {
        id: 'legendFrame',
        afterDraw: function (chart) {
            const boxes = chart.legend && chart.legend.legendHitBoxes;
            if (!boxes || !boxes.length) return;
            const first = boxes[0];
            const last = boxes[boxes.length - 1];
            const ctx = chart.ctx;
            ctx.save();
            ctx.strokeStyle = '#3a3a3a';
            ctx.lineWidth = 2;
            const left = first.left - 7;
            const right = last.left + last.width + 14;
            ctx.strokeRect(left, first.top - 9, right - left, 60);
            ctx.restore();
        }
    };
}

const datasets = seriesData.map((points, i) => ({
    label: seriesNames[i],
    data: points.map(p => ({x: p[0], y: p[1]})),
    backgroundColor: seriesColors[i],
    borderColor: seriesColors[i],
    borderWidth: 0,
    pointRadius: 2.6,
    pointHoverRadius: 2.6,
    order: seriesData.length - i
}));

new Chart(document.getElementById('chart'), {
    type: 'scatter',
    data: {datasets: datasets},
    options: {
        responsive: false,
        animation: false,
        events: [],
        layout: {padding: {left: 0, right: 74, top: 16, bottom: -4}},
        scales: {
            x: {
                type: 'linear',
                min: xTicks[0],
                max: xTicks[xTicks.length - 1],
                afterBuildTicks: function (scale) {
                    scale.ticks = xTicks.map(v => ({value: v}));
                },
                afterFit: function (scale) {
                    scale.height = 29;
                    scale.paddingLeft = 0;
                    scale.paddingRight = 0;
                },
                ticks: {display: false},
                grid: {color: '#d9d9d9', drawTicks: false},
                border: {color: '#bfbfbf'}
            },
            y: {
                min: 0,
                max: 10,
                afterFit: function (scale) {
                    scale.width = 36;
                    scale.paddingTop = 0;
                    scale.paddingBottom = 0;
                },
                ticks: {
                    stepSize: 1,
                    padding: 7,
                    color: TEXT,
                    font: {family: SERIF, size: 22}
                },
                grid: {color: '#d9d9d9', drawTicks: false},
                border: {color: '#d9d9d9'}
            }
        },
        plugins: {
            legend: {
                position: 'bottom',
                fullSize: false,
                labels: {
                    usePointStyle: true,
                    pointStyle: 'circle',
                    boxWidth: 2,
                    boxHeight: 3,
                    padding: 23,
                    color: TEXT,
                    font: {family: SERIF, size: 19},
                    sort: (a, b) => a.datasetIndex - b.datasetIndex
                }
            },
            tooltip: {enabled: false}
        }
    },
    plugins: [clockLabelsPlugin(), legendFramePlugin()]
});
</script>
</body>
</html>
